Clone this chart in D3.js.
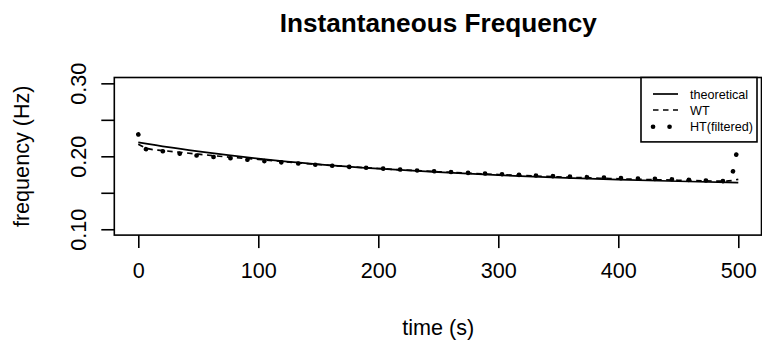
<!DOCTYPE html>
<html>
<head>
<meta charset="utf-8">
<script src="https://cdn.jsdelivr.net/npm/d3@7"></script>
<style>
  body { margin: 0; background: white; }
  text { font-family: "Liberation Sans", Arial, sans-serif; fill: black; }
</style>
</head>
<body>
<script>
'use strict';
// data
let theoTime  = [0, 25, 50, 75, 100, 150, 200, 250, 300, 350, 400, 450, 500];
let theoFreq  = [0.2190, 0.2125, 0.2068, 0.2015, 0.1968, 0.1890, 0.1830, 0.1782, 0.1742, 0.1708, 0.1680, 0.1658, 0.1640];

let wtTime = [0, 8, 20, 35, 50, 75, 100, 150, 200, 250, 300, 350, 400, 450, 490, 500];
let wtFreq = [0.2165, 0.2105, 0.2080, 0.2055, 0.2030, 0.1990, 0.1958, 0.1888, 0.1833, 0.1788, 0.1750, 0.1718, 0.1692, 0.1672, 0.1660, 0.1685];

let htTime = [0, 6, 20, 35, 50, 75, 100, 125, 150, 175, 200, 250, 300, 350, 400, 450, 480, 492, 495, 499];
let htFreq = [0.2300, 0.2100, 0.2070, 0.2035, 0.2008, 0.1975, 0.1940, 0.1910, 0.1882, 0.1856, 0.1834, 0.1792, 0.1756, 0.1726, 0.1702, 0.1682, 0.1665, 0.1658, 0.1760, 0.2090];

let xTicks = [0, 100, 200, 300, 400, 500];
let yTicks = [0.10, 0.15, 0.20, 0.25, 0.30];
let yTickLabels = ["0.10", "", "0.20", "", "0.30"];
let legendNames = ["theoretical", "WT", "HT(filtered)"];

(function() {
  let svg = d3.select("body").append("svg")
    .attr("width", 762)
    .attr("height", 343);

  // plot region
  let pLeft = 114.3, pRight = 762.3, pTop = 77.5, pBottom = 235.1;

  let xScale = d3.scaleLinear().domain([-20, 520]).range([pLeft, pRight]);
  let yScale = d3.scaleLinear().domain([0.092, 0.308]).range([pBottom, pTop]);

  function toRows(t, f) {
    return t.map((d, i) => ({ t: d, f: f[i] }));
  }

  let line = d3.line()
    .x(d => xScale(d.t))
    .y(d => yScale(d.f))
    .curve(d3.curveMonotoneX);

  // theoretical (solid)
  svg.append("path")
    .datum(toRows(theoTime, theoFreq))
    .attr("d", line)
    .attr("fill", "none")
    .attr("stroke", "black")
    .attr("stroke-width", 1.7);

  // WT (dashed)
  svg.append("path")
    .datum(toRows(wtTime, wtFreq))
    .attr("d", line)
    .attr("fill", "none")
    .attr("stroke", "black")
    .attr("stroke-width", 1.7)
    .attr("stroke-dasharray", "5.5,4.5");

  // HT filtered (thick dotted)
  svg.append("path")
    .datum(toRows(htTime, htFreq))
    .attr("d", line)
    .attr("fill", "none")
    .attr("stroke", "black")
    .attr("stroke-width", 4.6)
    .attr("stroke-linecap", "round")
    .attr("stroke-dasharray", "0.1,16.9");

  // box
  svg.append("rect")
    .attr("x", pLeft)
    .attr("y", pTop)
    .attr("width", 761.5 - pLeft)
    .attr("height", pBottom - pTop)
    .attr("fill", "none")
    .attr("stroke", "black")
    .attr("stroke-width", 1.6);

  // x axis
  let xAxis = d3.axisBottom(xScale).tickValues(xTicks).tickSize(13).tickSizeOuter(0);
  let gx = svg.append("g")
    .attr("transform", "translate(0," + pBottom + ")")
    .call(xAxis);
  gx.select(".domain").remove();
  gx.selectAll(".tick line").attr("stroke-width", 1.6);
  gx.selectAll(".tick text")
    .attr("y", 43)
    .attr("dy", 0)
    .style("font-size", "21.6px")
    .style("font-family", "Liberation Sans, Arial, sans-serif");

  // y axis, labels rotated like base R
  let yAxis = d3.axisLeft(yScale).tickValues(yTicks).tickSize(13).tickSizeOuter(0)
    .tickFormat((d, i) => yTickLabels[i]);
  let gy = svg.append("g")
    .attr("transform", "translate(" + pLeft + ",0)")
    .call(yAxis);
  gy.select(".domain").remove();
  gy.selectAll(".tick line").attr("stroke-width", 1.6);
  gy.selectAll(".tick text")
    .attr("x", 0)
    .attr("dy", 0)
    .attr("text-anchor", "middle")
    .attr("transform", "translate(" + (86 - pLeft) + ",0) rotate(-90)")
    .style("font-size", "21.6px")
    .style("font-family", "Liberation Sans, Arial, sans-serif");

  // title and axis labels
  svg.append("text")
    .attr("x", (pLeft + pRight) / 2)
    .attr("y", 32)
    .attr("text-anchor", "middle")
    .style("font-size", "26.2px")
    .style("font-weight", "bold")
    .text("Instantaneous Frequency");

  svg.append("text")
    .attr("x", (pLeft + pRight) / 2)
    .attr("y", 335)
    .attr("text-anchor", "middle")
    .style("font-size", "21.6px")
    .text("time (s)");

  svg.append("text")
    .attr("transform", "translate(29," + ((pTop + pBottom) / 2) + ") rotate(-90)")
    .attr("text-anchor", "middle")
    .style("font-size", "21.6px")
    .text("frequency (Hz)");

  // legend
  let lg = svg.append("g");
  lg.append("rect")
    .attr("x", 641)
    .attr("y", pTop)
    .attr("width", 116)
    .attr("height", 64.4)
    .attr("fill", "white")
    .attr("stroke", "black")
    .attr("stroke-width", 1.6);

  let rowY = [94, 110, 126.7];
  let sampleStyle = [
    { w: 1.7, dash: null, cap: "butt" },
    { w: 1.7, dash: "5.5,4.5", cap: "butt" },
    { w: 4.6, dash: "0.1,16.4", cap: "round" }
  ];
  legendNames.forEach((name, i) => {
    lg.append("line")
      .attr("x1", 653).attr("x2", 678)
      .attr("y1", rowY[i]).attr("y2", rowY[i])
      .attr("stroke", "black")
      .attr("stroke-width", sampleStyle[i].w)
      .attr("stroke-linecap", sampleStyle[i].cap)
      .attr("stroke-dasharray", sampleStyle[i].dash);
    lg.append("text")
      .attr("x", 690)
      .attr("y", rowY[i] + 4.5)
      .style("font-size", "12.6px")
      .text(name);
  });
})();
</script>
</body>
</html>
